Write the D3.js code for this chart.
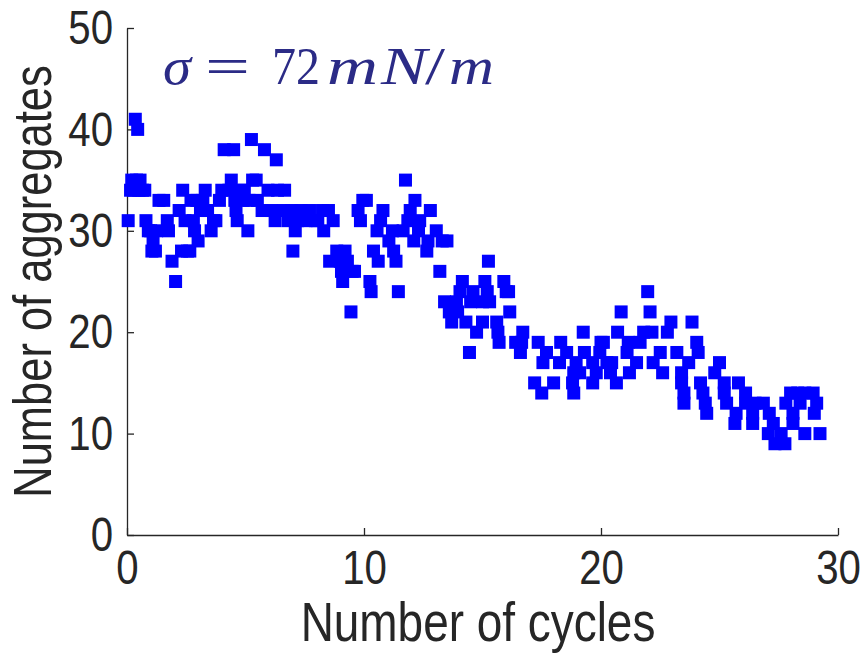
<!DOCTYPE html>
<html>
<head>
<meta charset="utf-8">
<script src="https://cdn.jsdelivr.net/npm/d3@7"></script>
<style>
  body { margin: 0; background: #fff; }
  svg { display: block; }
  .axis text { font-family: "Liberation Sans", Arial, sans-serif; font-size: 49px; fill: #262626; }
  .axis path, .axis line { stroke: #262626; stroke-width: 1.3; }
  .axis-label { font-family: "Liberation Sans", Arial, sans-serif; fill: #262626; }
</style>
</head>
<body>
<div id="chart"></div>
<script>
// Number of aggregates per cycle
const cycles = [
  0.05, 0.15, 0.2, 0.3, 0.35, 0.4, 0.45, 0.5, 0.55, 0.65, 0.75, 0.8, 0.9,
  1.0, 1.05, 1.1, 1.2, 1.25, 1.35, 1.55, 1.7, 1.75, 1.9,
  2.05, 2.2, 2.3, 2.35, 2.45, 2.55, 2.65, 2.7, 2.8, 2.85, 2.95,
  3.0, 3.1, 3.2, 3.3, 3.4, 3.55, 3.65, 3.75, 3.9,
  4.0, 4.1, 4.3, 4.4, 4.5, 4.55, 4.6, 4.65, 4.8, 4.9, 4.95,
  5.1, 5.15, 5.25, 5.3, 5.45, 5.5, 5.7, 5.8, 5.95,
  6.1, 6.25, 6.3, 6.35, 6.6, 6.65, 6.8, 6.95,
  7.0, 7.1, 7.2, 7.35, 7.55, 7.7, 7.95,
  8.05, 8.25, 8.3, 8.5, 8.55, 8.7, 8.85,
  9.0, 9.05, 9.1, 9.2, 9.3, 9.45, 9.5, 9.6, 9.75, 9.85, 9.95,
  10.1, 10.25, 10.3, 10.4, 10.55, 10.6, 10.7, 10.8,
  11.05, 11.2, 11.25, 11.35, 11.45, 11.65, 11.75, 11.85, 11.95,
  12.1, 12.15, 12.3, 12.35, 12.65, 12.7, 12.8,
  13.05, 13.2, 13.3, 13.4, 13.5, 13.6, 13.7, 13.9, 13.95,
  14.05, 14.15, 14.3, 14.45, 14.5, 14.6, 14.75,
  15.0, 15.0, 15.1, 15.2, 15.25, 15.3, 15.6, 15.65, 15.7, 15.9,
  16.0, 16.1, 16.15, 16.4, 16.6, 16.65, 16.7,
  17.2, 17.35, 17.5, 17.55, 17.7,
  18.0, 18.25, 18.3, 18.55, 18.8, 18.85, 18.85, 18.95,
  19.1, 19.25, 19.3, 19.65, 19.65, 19.8, 19.95,
  20.0, 20.1, 20.25, 20.4, 20.45, 20.65, 20.7, 20.85,
  21.1, 21.15, 21.2, 21.5, 21.65, 21.8, 21.97,
  22.07, 22.15, 22.2, 22.5, 22.6, 22.8, 22.95,
  23.2, 23.4, 23.4, 23.5, 23.5, 23.7, 23.84,
  24.04, 24.1, 24.2, 24.3, 24.4, 24.46, 24.8,
  25.0, 25.2, 25.2, 25.3, 25.65, 25.7, 25.8,
  26.1, 26.1, 26.4, 26.4, 26.5, 26.85,
  27.06, 27.1, 27.27, 27.34, 27.6, 27.76, 27.8,
  28.0, 28.1, 28.1, 28.3, 28.4, 28.6, 28.6, 28.95,
  29.0, 29.1, 29.24
];
const aggregates = [
  31, 34, 35, 34, 41, 35, 40, 34, 35, 34, 34, 31, 30,
  30, 28, 29, 28, 30, 33, 33, 31, 30, 27,
  25, 32, 28, 34, 31, 28, 28, 33, 31, 30, 33,
  29, 32, 33, 34, 32, 30, 31, 31, 33,
  34, 38, 34, 35, 38, 33, 32, 31, 34, 33, 34,
  30, 33, 39, 35, 35, 33, 32, 38, 34,
  32, 31, 37, 34, 32, 34, 31, 32,
  28, 30, 31, 32, 31, 32, 31,
  31, 32, 30, 32, 27, 31, 28,
  27, 26, 25, 28, 27, 22, 26, 26, 32, 31, 33,
  33, 25, 24, 28, 30, 27, 31, 32,
  29, 30, 28, 27, 24, 30, 35, 31, 32,
  29, 33, 30, 31, 28, 29, 32,
  30, 26, 29, 23, 29, 22, 21, 23, 22,
  24, 25, 21, 18, 23, 24, 20,
  21, 23, 25, 24, 27, 23, 21, 20, 19, 25,
  24, 24, 22, 19, 18, 19, 20,
  15, 19, 14, 17, 18,
  15, 17, 19, 18, 15, 14, 16, 17,
  16, 20, 18, 17, 15, 16, 18,
  19, 19, 17, 16, 17, 15, 20, 22,
  18, 19, 16, 17, 19, 20, 24,
  22, 20, 17, 18, 16, 20, 21,
  18, 16, 15, 14, 13, 17, 21,
  19, 18, 15, 14, 13, 12, 16,
  17, 15, 14, 13, 11, 12, 15,
  14, 13, 12, 11, 13, 13,
  10, 12, 11, 9, 10, 9, 13,
  14, 12, 11, 14, 13, 10, 14, 14,
  12, 13, 10
];
const xTicks = [0, 10, 20, 30];
const yTicks = [0, 10, 20, 30, 40, 50];

const points = cycles.map((c, i) => ({ x: c, y: aggregates[i] }));

const W = 865, H = 665;
const svg = d3.select('#chart').append('svg')
  .attr('width', W)
  .attr('height', H);

// Scales
const xScale = d3.scaleLinear().domain([0, 30]).range([127, 838]);
const yScale = d3.scaleLinear().domain([0, 50]).range([535, 28]);

// Axes (MATLAB style: ticks pointing inward, no box)
svg.append('g')
  .attr('class', 'axis')
  .attr('transform', `translate(0,${yScale(0)})`)
  .call(d3.axisBottom(xScale).tickValues(xTicks).tickSizeInner(-7).tickSizeOuter(0).tickPadding(14));

svg.append('g')
  .attr('class', 'axis')
  .attr('transform', `translate(${xScale(0)},0)`)
  .call(d3.axisLeft(yScale).tickValues(yTicks).tickSizeInner(-7).tickSizeOuter(0).tickPadding(14));

// Axis labels
svg.append('text')
  .attr('class', 'axis-label')
  .attr('x', 478)
  .attr('y', 641)
  .attr('text-anchor', 'middle')
  .style('font-size', '56px')
  .text('Number of cycles');

svg.append('text')
  .attr('class', 'axis-label')
  .attr('transform', `translate(51,${(yScale(0) + yScale(50)) / 2}) rotate(-90)`)
  .attr('text-anchor', 'middle')
  .style('font-size', '53px')
  .text('Number of aggregates');

// Helvetica in the figure is narrow: squeeze the sans texts
svg.selectAll('.axis text, .axis-label').each(function() {
  const len = this.getComputedTextLength();
  d3.select(this)
    .attr('textLength', len * 0.82)
    .attr('lengthAdjust', 'spacingAndGlyphs');
});

// Square markers
const size = 13;
svg.append('g')
  .selectAll('rect')
  .data(points)
  .enter().append('rect')
  .attr('x', d => xScale(d.x) - size / 2)
  .attr('y', d => yScale(d.y) - size / 2)
  .attr('width', size)
  .attr('height', size)
  .attr('fill', '#0000ff');

// Annotation (LaTeX-like), each glyph placed like the math font
const annParts = [
  { t: 'σ', x: 163, w: 28, it: true },
  { t: '=', x: 205, w: 45, it: false },
  { t: '72', x: 272, w: 48, it: false },
  { t: 'm', x: 327, w: 51, it: true },
  { t: 'N', x: 381, w: 46, it: true },
  { t: '/', x: 425, w: 20, it: false },
  { t: 'm', x: 449, w: 45, it: true }
];
const ann = svg.append('text')
  .attr('y', 84)
  .style('font-family', '"Liberation Serif", "Times New Roman", serif')
  .style('font-size', '52px')
  .style('fill', '#2b2b86');
annParts.forEach(p => {
  ann.append('tspan')
    .attr('x', p.x)
    .attr('textLength', p.w)
    .attr('lengthAdjust', 'spacingAndGlyphs')
    .style('font-style', p.it ? 'italic' : 'normal')
    .text(p.t);
});
</script>
</body>
</html>
